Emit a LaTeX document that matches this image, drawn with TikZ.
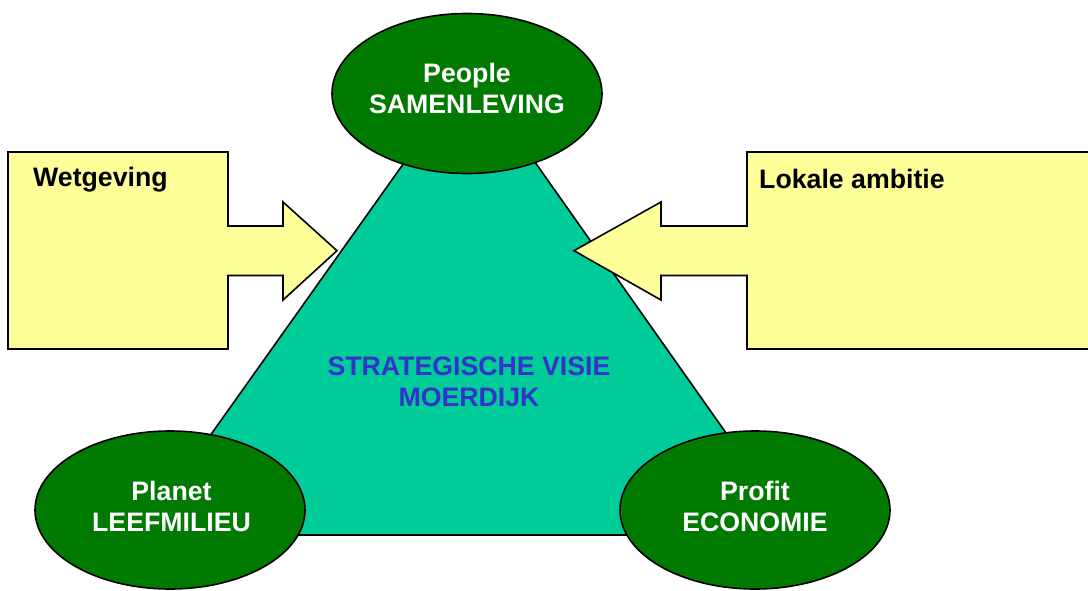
\documentclass[tikz,border=0pt]{standalone}
\usepackage{fontspec}
\setmainfont{Liberation Sans}
\usetikzlibrary{shapes.geometric}
\definecolor{darkgreen}{RGB}{0,122,0}
\definecolor{teal}{RGB}{0,204,153}
\definecolor{paleyellow}{RGB}{255,255,153}
\definecolor{visieblue}{RGB}{51,51,204}
\tikzset{
  edge/.style={draw=black, line width=1.6pt, line join=miter},
  pillar/.style={ellipse, edge, fill=darkgreen, minimum width=270pt, minimum height=160pt, inner sep=0pt},
  pillartext/.style={text=white, font=\fontsize{26.7}{31}\selectfont\bfseries, align=center, anchor=base, inner sep=0pt},
  callout/.style={edge, fill=paleyellow},
  callouttext/.style={text=black, font=\fontsize{26.7}{31}\selectfont\bfseries, anchor=base west, inner sep=0pt},
  visietext/.style={text=visieblue, font=\fontsize{26.7}{31}\selectfont\bfseries, align=center, anchor=base, inner sep=0pt}
}
\begin{document}
\begin{tikzpicture}[x=1pt,y=-1pt]
\useasboundingbox (0,0) rectangle (1088,590);
% triangle
\coordinate (apex) at (470,70);
\coordinate (bl) at (139.5,535);
\coordinate (br) at (798,535);
\draw[edge, fill=teal] (apex) -- (bl) -- (br) -- cycle;
\node[visietext] (visie) at (469,406.7) {STRATEGISCHE VISIE\\MOERDIJK};
% ellipses
\node[pillar] (people) at (467,93.5) {};
\node[pillar, minimum height=158pt] (planet) at (170,510) {};
\node[pillar, minimum height=158pt] (profit) at (755,510) {};
\node[pillartext] (peopletxt) at (467,113) {People\\SAMENLEVING};
\node[pillartext] (planettxt) at (171.5,531) {Planet\\LEEFMILIEU};
\node[pillartext] (profittxt) at (755,531) {Profit\\ECONOMIE};
% callouts
\draw[callout] (8,152) -- (228,152) -- (228,226) -- (283,226) -- (283,202) -- (337,250.7)
  -- (283,300) -- (283,275.5) -- (228,275.5) -- (228,349) -- (8,349) -- cycle;
\draw[callout] (1095,152) -- (747,152) -- (747,226) -- (661,226) -- (661,202) -- (574,250.7)
  -- (661,300) -- (661,275.5) -- (747,275.5) -- (747,349) -- (1095,349) -- cycle;
\node[callouttext] (wet) at (33,186) {Wetgeving};
\node[callouttext] (lokaal) at (759,188) {Lokale ambitie};
\end{tikzpicture}
\end{document}
